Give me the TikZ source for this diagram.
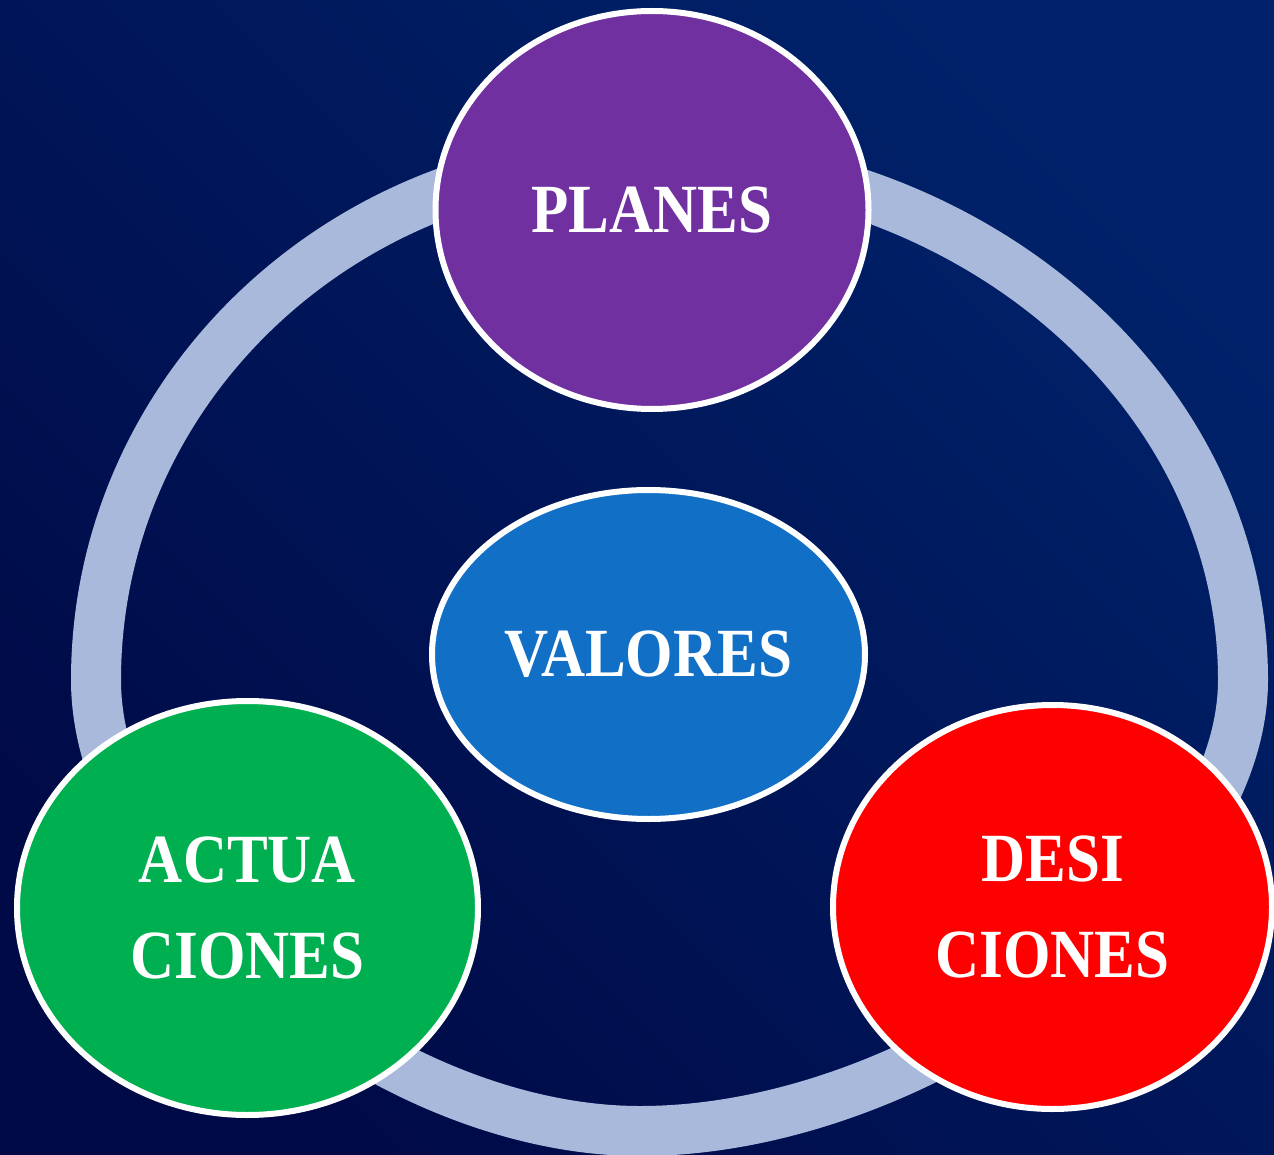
\documentclass[tikz,border=0pt]{standalone}
\usepackage{fontspec}
\newfontfamily\lblfont{Liberation Serif}[FakeStretch=0.885]
\usetikzlibrary{shapes.geometric}
\definecolor{bgdark}{HTML}{000A47}
\definecolor{bgmid}{HTML}{001150}
\definecolor{bglight}{HTML}{00226A}
\definecolor{ringc}{HTML}{A9B9DC}
\definecolor{cpurple}{HTML}{7030A0}
\definecolor{cblue}{HTML}{1170C6}
\definecolor{cgreen}{HTML}{00B050}
\definecolor{cred}{HTML}{FF0000}
\begin{document}
\begin{tikzpicture}[x=1pt,y=-1pt,
  bubble/.style={ellipse, draw=white, line width=6pt, inner sep=0pt, text=white,
    align=center, font=\lblfont\bfseries\fontsize{69}{96}\selectfont}]
\useasboundingbox (0,0) rectangle (1274,1155);
\shade[top color=bglight, middle color=bgmid, bottom color=bgdark, shading angle=-45]
  (0,0) rectangle (1274,1155);
% ring
\draw[ringc, line width=50pt]
  (96,680) arc[start angle=180, end angle=270, x radius=544, y radius=522]
           arc[start angle=270, end angle=360, x radius=603, y radius=522]
           .. controls (1243,892) and (923,1131) .. (640,1131)
           .. controls (384,1131) and (96,892) .. (96,680) -- cycle;
% bubbles
\node[bubble, fill=cpurple, minimum width=433pt, minimum height=398pt] (planes) at (652,210) {PLANES};
\node[bubble, fill=cblue, minimum width=433pt, minimum height=329pt] (valores) at (648.5,654.5) {VALORES};
\node[bubble, fill=cgreen, minimum width=461pt, minimum height=414pt] (actua) at (247.5,908) {ACTUA\\CIONES};
\node[bubble, fill=cred, minimum width=439pt, minimum height=404pt] (desi) at (1052.5,907) {DESI\\CIONES};
\end{tikzpicture}
\end{document}
